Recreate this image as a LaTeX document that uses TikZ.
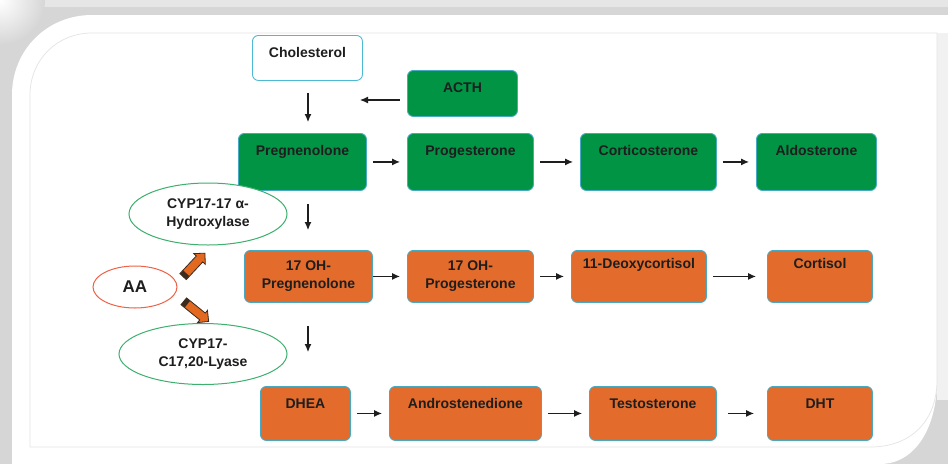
\documentclass[tikz,border=0pt]{standalone}
\usepackage{fontspec}
\setmainfont{Liberation Sans}
\usetikzlibrary{positioning, calc, shapes.geometric, shapes.arrows, arrows.meta}

\definecolor{bggray}{HTML}{D6D6D6}
\definecolor{bgtop}{HTML}{E6E6E6}
\definecolor{bgright}{HTML}{F1F1F1}
\definecolor{frameline}{HTML}{E4E4E4}
\definecolor{ink}{HTML}{1E1E1E}
\definecolor{stagegreen}{HTML}{009444}
\definecolor{stageorange}{HTML}{E36B2B}
\definecolor{boxline}{HTML}{48AAC2}
\definecolor{cholline}{HTML}{4DBAD4}
\definecolor{enzgreen}{HTML}{3DAF6E}
\definecolor{aared}{HTML}{EE6248}
\definecolor{arrowfill}{HTML}{E2691F}
\definecolor{arrowline}{HTML}{3B2A1E}

\tikzset{
	stage/.style={rounded corners=6pt, draw=boxline, line width=0.9pt, inner xsep=2pt, inner ysep=4pt, text=ink, font=\bfseries\fontsize{14}{18}\selectfont, anchor=north west},
	greenstage/.style={stage, fill=stagegreen},
	orangestage/.style={stage, fill=stageorange},
	toptext/.style 2 args={text height=#1, text depth=#2},
	enzyme/.style={ellipse, draw=enzgreen, line width=1pt, fill=white, inner sep=0pt, align=center, text=ink, font=\bfseries\fontsize{14}{18}\selectfont},
	blockarrow/.style={single arrow, draw=arrowline, fill=arrowfill, line width=0.8pt, minimum height=32pt, inner sep=4pt, single arrow head extend=3.5pt},
	arr/.style={-{Latex[length=8pt,width=7pt]}, line width=1.1pt, draw=ink, shorten <=6pt, shorten >=7pt}
}

\begin{document}
\begin{tikzpicture}[x=1pt, y=-1pt]
	\useasboundingbox (0,0) rectangle (948,464);
	\fill[bggray] (0,0) rectangle (948,464);
	\fill[bgtop] (0,0) rectangle (948,7);
	\begin{scope}
		\clip (0,0) rectangle (50,100);
		\shade[inner color=white, outer color=bggray] (0,0) circle (45);
	\end{scope}
	\fill[bgright] (937,33) rectangle (948,400);
	\fill[white] (12,464) -- (12,95) .. controls (12,50) and (47,15) .. (92,15) -- (948,15) -- (948,33) -- (937,33) -- (937,380) .. controls (937,428) and (915,464) .. (880,464) -- cycle;
	\draw[frameline, line width=0.7pt] (30,447) -- (30,95) .. controls (30,60) and (57,33) .. (92,33) -- (937,33) -- (937,380) .. controls (937,420) and (912,447) .. (870,447) -- cycle;

	\node[stage, draw=cholline, fill=white, toptext={18pt}{19pt}, minimum width=110pt] (chol) at (252,35) {Cholesterol};
	\node[greenstage, toptext={18pt}{20pt}, minimum width=110pt] (acth) at (407,70) {ACTH};

	\node[greenstage, toptext={18pt}{31pt}, minimum width=128pt] (preg) at (238,133) {Pregnenolone};
	\node[greenstage, toptext={18pt}{31pt}, minimum width=126pt] (prog) at (407,133) {Progesterone};
	\node[greenstage, toptext={18pt}{31pt}, minimum width=136pt] (cortico) at (580,133) {Corticosterone};
	\node[greenstage, toptext={18pt}{31pt}, minimum width=120pt] (aldo) at (756,133) {Aldosterone};

	\node[orangestage, align=center, minimum width=128pt, minimum height=52pt] (ohpreg) at (244,250) {17 OH-\\Pregnenolone};
	\node[orangestage, align=center, minimum width=126pt, minimum height=52pt] (ohprog) at (407,250) {17 OH-\\Progesterone};
	\node[orangestage, toptext={14pt}{30pt}, minimum width=135pt] (deoxy) at (571,250) {11-Deoxycortisol};
	\node[orangestage, toptext={14pt}{30pt}, minimum width=105pt] (cortisol) at (767,250) {Cortisol};

	\node[orangestage, toptext={18pt}{28pt}, minimum width=90pt] (dhea) at (260,386) {DHEA};
	\node[orangestage, toptext={18pt}{28pt}, minimum width=152pt] (andro) at (389,386) {Androstenedione};
	\node[orangestage, toptext={18pt}{28pt}, minimum width=127pt] (testo) at (589,386) {Testosterone};
	\node[orangestage, toptext={18pt}{28pt}, minimum width=105pt] (dht) at (767,386) {DHT};

	\node[enzyme, minimum width=158pt, minimum height=62pt] (hydrox) at (208,214) {CYP17-17 α-\\Hydroxylase};
	\node[enzyme, draw=aared, minimum width=84pt, minimum height=42pt, font=\bfseries\fontsize{17}{20}\selectfont] (aa) at (135,287) {AA};
	\node[enzyme, minimum width=168pt, minimum height=61pt] (lyase) at (203,354) {CYP17-\\C17,20-Lyase};

	\node[blockarrow, rotate=47] (toup) at (192.5,266.5) {};
	\node[blockarrow, rotate=-39] (todown) at (194.5,310) {};
	\foreach \a in {toup, todown}
		\draw[arrowline, line width=8pt] ($(\a.tail)!0.5pt!(\a.tip)$) -- ($(\a.tail)!5pt!(\a.tip)$);

	\coordinate (vx) at (308,0);
	\coordinate (acthin) at (360,100);
	\draw[arr, shorten <=12pt, shorten >=11pt] (chol.south -| vx) -- (preg.north -| vx);
	\draw[arr, shorten <=7pt, shorten >=0pt] (acth.west |- acthin) -- (acthin);
	\draw[arr, shorten <=13pt, shorten >=20pt] (preg.south -| vx) -- (ohpreg.north -| vx);
	\draw[arr, shorten <=23pt, shorten >=34pt] (ohpreg.south -| vx) -- (dhea.north -| vx);

	\draw[arr] (preg) -- (prog);
	\draw[arr] (prog) -- (cortico);
	\draw[arr] (cortico) -- (aldo);
	\draw[arr, shorten <=0pt] (ohpreg) -- (ohprog);
	\draw[arr] (ohprog) -- (deoxy);
	\draw[arr, shorten >=11pt] (deoxy) -- (cortisol);
	\draw[arr] (dhea) -- (andro);
	\draw[arr] (andro) -- (testo);
	\draw[arr, shorten <=11pt, shorten >=13pt] (testo) -- (dht);
\end{tikzpicture}
\end{document}
